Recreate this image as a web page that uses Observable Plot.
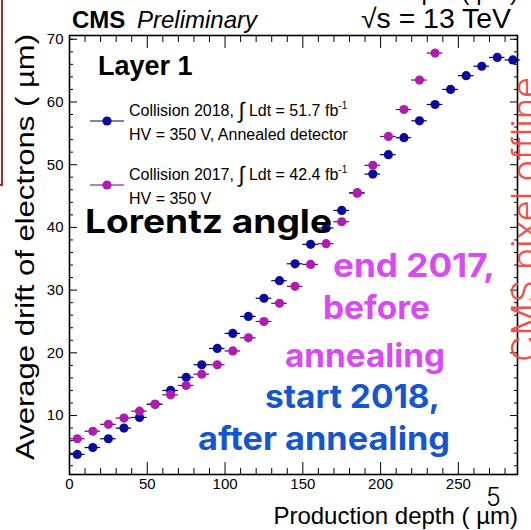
<!DOCTYPE html>
<html><head><meta charset="utf-8">
<script src="https://cdn.jsdelivr.net/npm/d3@7"></script>
<script src="https://cdn.jsdelivr.net/npm/@observablehq/plot@0.6"></script>
<style>
body{margin:0;background:#fff;}
#chart{position:relative;width:531px;height:530px;overflow:hidden;background:#fff;}
#chart svg{overflow:hidden;}
</style></head><body><div id="chart"></div>
<script>
// ---- data ----
const depth = [5,15,25,35,45,55,65,75,85,95,105,115,125,135,145,155,165,175,185,195,205,215,225,235,245,255,265,275,285];
const drift2018 = [3.8,4.9,6.3,8.0,9.7,11.8,14.0,16.1,18.1,20.7,23.1,25.8,28.7,31.5,34.2,37.3,39.9,42.7,45.5,48.5,51.6,54.3,57.0,59.6,62.0,64.2,65.7,67.1,66.7];
const drift2017 = [6.3,7.5,8.6,9.6,10.7,11.8,13.3,14.8,16.6,18.1,20.3,22.4,25.0,27.9,30.6,34.1,37.4,40.9,45.5,49.9,54.5,58.8,63.5,67.8];
const binHalfWidth = 5;
const xMajorTicks = [0,50,100,150,200,250];
const xMinorTicks = [10,20,30,40,60,70,80,90,110,120,130,140,160,170,180,190,210,220,230,240,260,270,280];
const yMajorTicks = [10,20,30,40,50,60,70];
const yMinorTicks = [2,4,6,8,12,14,16,18,22,24,26,28,32,34,36,38,42,44,46,48,52,54,56,58,62,64,66,68,70];
const seriesNames = ["Collision 2018", "Collision 2017"];

const rows2018 = depth.map((x, i) => ({x, y: drift2018[i]}));
const rows2017 = drift2017.map((y, i) => ({x: depth[i], y}));

const C18 = "#0a0a9c", C18e = "#000050";
const C17 = "#b01cb0", C17e = "#6a006a";

const plot = Plot.plot({
  width: 531, height: 530,
  marginLeft: 69, marginRight: 14, marginTop: 35, marginBottom: 56,
  x: {domain: [0, 288]},
  y: {domain: [0.6, 70.6]},
  style: {fontFamily: "'Liberation Sans', Arial, sans-serif", fontSize: "15px", color: "#000", background: "transparent"},
  marks: [
    Plot.axisX({ticks: xMinorTicks, anchor: "bottom", tickSize: -6, text: null, label: null}),
    Plot.axisX({ticks: xMajorTicks, anchor: "bottom", tickSize: -12, text: null, label: null}),
    Plot.axisX({ticks: xMinorTicks, anchor: "top", tickSize: -6, text: null, label: null}),
    Plot.axisX({ticks: xMajorTicks, anchor: "top", tickSize: -12, text: null, label: null}),
    Plot.axisX({ticks: xMajorTicks, anchor: "bottom", tickSize: 0, tickPadding: 4, label: null, fontSize: 15}),
    Plot.axisY({ticks: yMinorTicks, anchor: "left", tickSize: -4, text: null, label: null}),
    Plot.axisY({ticks: yMajorTicks, anchor: "left", tickSize: -8, text: null, label: null}),
    Plot.axisY({ticks: yMinorTicks, anchor: "right", tickSize: -4, text: null, label: null}),
    Plot.axisY({ticks: yMajorTicks, anchor: "right", tickSize: -8, text: null, label: null}),
    Plot.axisY({ticks: yMajorTicks, anchor: "left", tickSize: 0, tickPadding: 6, label: null, fontSize: 15}),
    Plot.ruleY(rows2018, {y: "y", x1: d => d.x - binHalfWidth, x2: d => d.x + binHalfWidth, stroke: C18e, strokeWidth: 1.2}),
    Plot.dot(rows2018, {x: "x", y: "y", r: 4.6, fill: C18}),
    Plot.ruleY(rows2017, {y: "y", x1: d => d.x - binHalfWidth, x2: d => d.x + binHalfWidth, stroke: C17e, strokeWidth: 1.2}),
    Plot.dot(rows2017, {x: "x", y: "y", r: 4.6, fill: C17}),
    Plot.frame({stroke: "#000", strokeWidth: 1.6})
  ]
});
document.getElementById("chart").appendChild(plot);

const svg = d3.select(plot);
function txt(s, x, y, o = {}) {
  const t = svg.append("text").attr("x", x).attr("y", y).text(s)
    .attr("font-family", o.family || "'Liberation Sans', Arial, sans-serif")
    .attr("font-size", o.size || 16)
    .attr("font-weight", o.weight || 400)
    .attr("font-style", o.style || "normal")
    .attr("fill", o.fill || "#000")
    .attr("text-anchor", o.anchor || "start");
  if (o.len) t.attr("textLength", o.len).attr("lengthAdjust", "spacingAndGlyphs");
  if (o.transform) t.attr("transform", o.transform);
  return t;
}

// top cut-off text from the slide above
txt("Production depth ( \u00b5m)", 518, 0, {size: 24, anchor: "end"});
// header
txt("CMS", 72, 28, {size: 24, weight: 700});
txt("Preliminary", 137, 28, {size: 24, style: "italic"});
txt("\u221As = 13 TeV", 511, 28, {size: 27, anchor: "end", len: 150});
// axis titles
txt("Production depth ( \u00b5m)", 518, 524, {size: 24, anchor: "end"});
txt("Average drift of electrons ( \u00b5m)", 0, 0, {size: 26, anchor: "end", len: 426, transform: "translate(34,34) rotate(-90)"});

// legend
txt("Layer 1", 98, 75, {size: 27, weight: 700});
const legend = [
  {name: seriesNames[0], lumi: "51.7", line2: "HV = 350 V, Annealed detector", fill: C18, err: C18e, y: 121},
  {name: seriesNames[1], lumi: "42.4", line2: "HV = 350 V", fill: C17, err: C17e, y: 185}
];
legend.forEach(e => {
  svg.append("line").attr("x1", 90).attr("x2", 124).attr("y1", e.y).attr("y2", e.y).attr("stroke", e.err).attr("stroke-width", 1.2);
  svg.append("circle").attr("cx", 107).attr("cy", e.y).attr("r", 4.6).attr("fill", e.fill);
  const t = txt(e.name + ", ", 129, e.y - 5, {size: 16});
  t.append("tspan").attr("font-size", 22).attr("dy", 2).text("\u222b");
  t.append("tspan").attr("dy", -2).text(" Ldt = " + e.lumi + " fb");
  t.append("tspan").attr("font-size", 10).attr("dy", -7).text("-1");
  txt(e.line2, 129, e.y + 19, {size: 16});
});

// slide overlays
const ov = "Inter, 'Open Sans', sans-serif";
txt("Lorentz angle", 85, 233, {size: 32, weight: 700, family: ov, len: 247});
const MAG = "#d94af6", BLU = "#1556cf";
txt("end 2017,", 333, 277, {size: 32, weight: 700, family: ov, fill: MAG, len: 162});
txt("before", 323, 319, {size: 32, weight: 700, family: ov, fill: MAG, len: 107});
txt("annealing", 285, 367, {size: 32, weight: 700, family: ov, fill: MAG, len: 160});
txt("start 2018,", 265, 408, {size: 32, weight: 700, family: ov, fill: BLU, len: 175});
txt("after annealing", 198, 450, {size: 32, weight: 700, family: ov, fill: BLU, len: 252});
txt("CMS pixel offline", 0, 0, {size: 35, weight: 300, family: ov, fill: "#f0504a", len: 285, transform: "translate(537,362) rotate(-90)"});
txt("5", 486, 506, {size: 25, weight: 300, family: ov});
// red box edge on the left
svg.append("path").attr("d", "M2,0 V185 H0").attr("fill", "none").attr("stroke", "#b3261e").attr("stroke-width", 2);
</script>
</body></html>
